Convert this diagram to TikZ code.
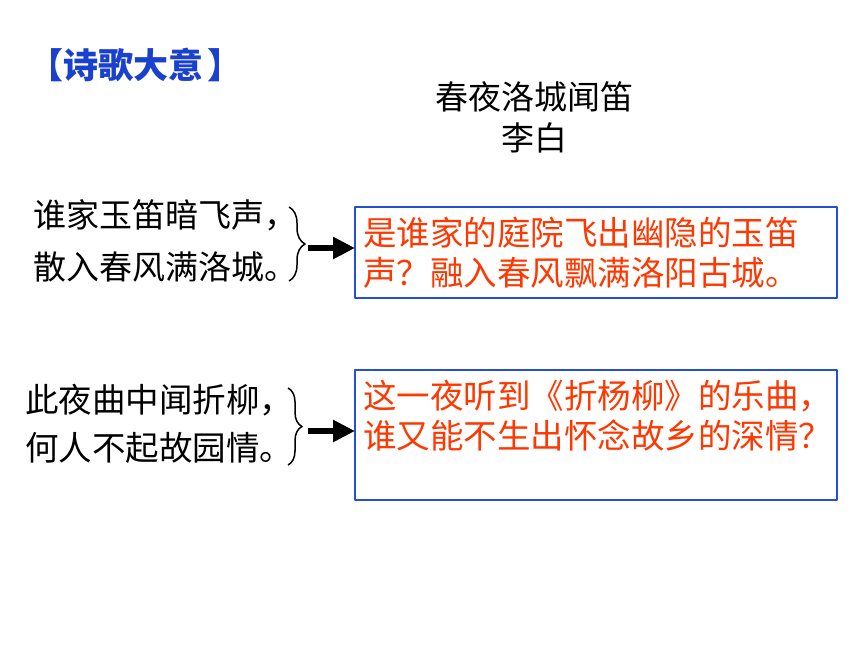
\documentclass[tikz,border=0pt]{standalone}
\usepackage{fontspec}
\setmainfont{Noto Sans CJK SC}
\usetikzlibrary{arrows.meta,decorations.pathreplacing}
\definecolor{headblue}{RGB}{25,65,205}
\definecolor{frameblue}{RGB}{35,80,210}
\definecolor{answerred}{RGB}{255,55,0}
\begin{document}
\begin{tikzpicture}[x=1pt, y=-1pt, line join=round,
  verse/.style={anchor=west, inner sep=0pt, align=left},
  frame/.style={draw=frameblue, line width=2pt, anchor=north west, outer sep=0pt, minimum width=482pt},
  answer/.style={anchor=north west, inner xsep=8pt, inner ysep=10pt, align=left, text=answerred, font=\fontsize{33.5}{40}\selectfont},
  bracket/.style={decorate, decoration={brace, amplitude=#1}, line width=1.5pt},
  pointer/.style={line width=6pt, -{Triangle[length=22pt, width=21pt]}}]
\useasboundingbox (0,0) rectangle (860,645);
% heading and poem title
\node[anchor=west, inner sep=0pt, text=headblue, font=\fontsize{35}{40}\selectfont\bfseries] (heading) at (28,65) {【诗歌大意\kern4pt】};
\node[font=\fontsize{33}{40}\selectfont] (ptitle) at (534,97) {春夜洛城闻笛};
\node[font=\fontsize{33}{40}\selectfont] (author) at (534,138) {李白};
% first couplet
\node[verse, font=\fontsize{33}{52}\selectfont] (verse1) at (33,241) {谁家玉笛暗飞声，\\散入春风满洛城。};
\draw[bracket=16pt] (289,207) -- (289,281);
\coordinate (tip1) at (308,248);
\node[frame, minimum height=91pt] (box1) at (355,207) {};
\node[answer] (ans1) at (box1.north west) {是谁家的庭院飞出幽隐的玉笛\\声？融入春风飘满洛阳古城。};
\draw[pointer] (tip1) -- (tip1 -| box1.west);
% second couplet
\node[verse, font=\fontsize{33.5}{48}\selectfont] (verse2) at (25,424) {此夜曲中闻折柳，\\何人不起故园情。};
\draw[bracket=14pt] (288,388) -- (288,465);
\coordinate (tip2) at (308,431);
\node[frame, minimum height=130pt] (box2) at (355,370) {};
\node[answer] (ans2) at (box2.north west) {这一夜听到《折杨柳》的乐曲，\\谁又能不生出怀念故乡的深情？};
\draw[pointer] (tip2) -- (tip2 -| box2.west);
\end{tikzpicture}
\end{document}
